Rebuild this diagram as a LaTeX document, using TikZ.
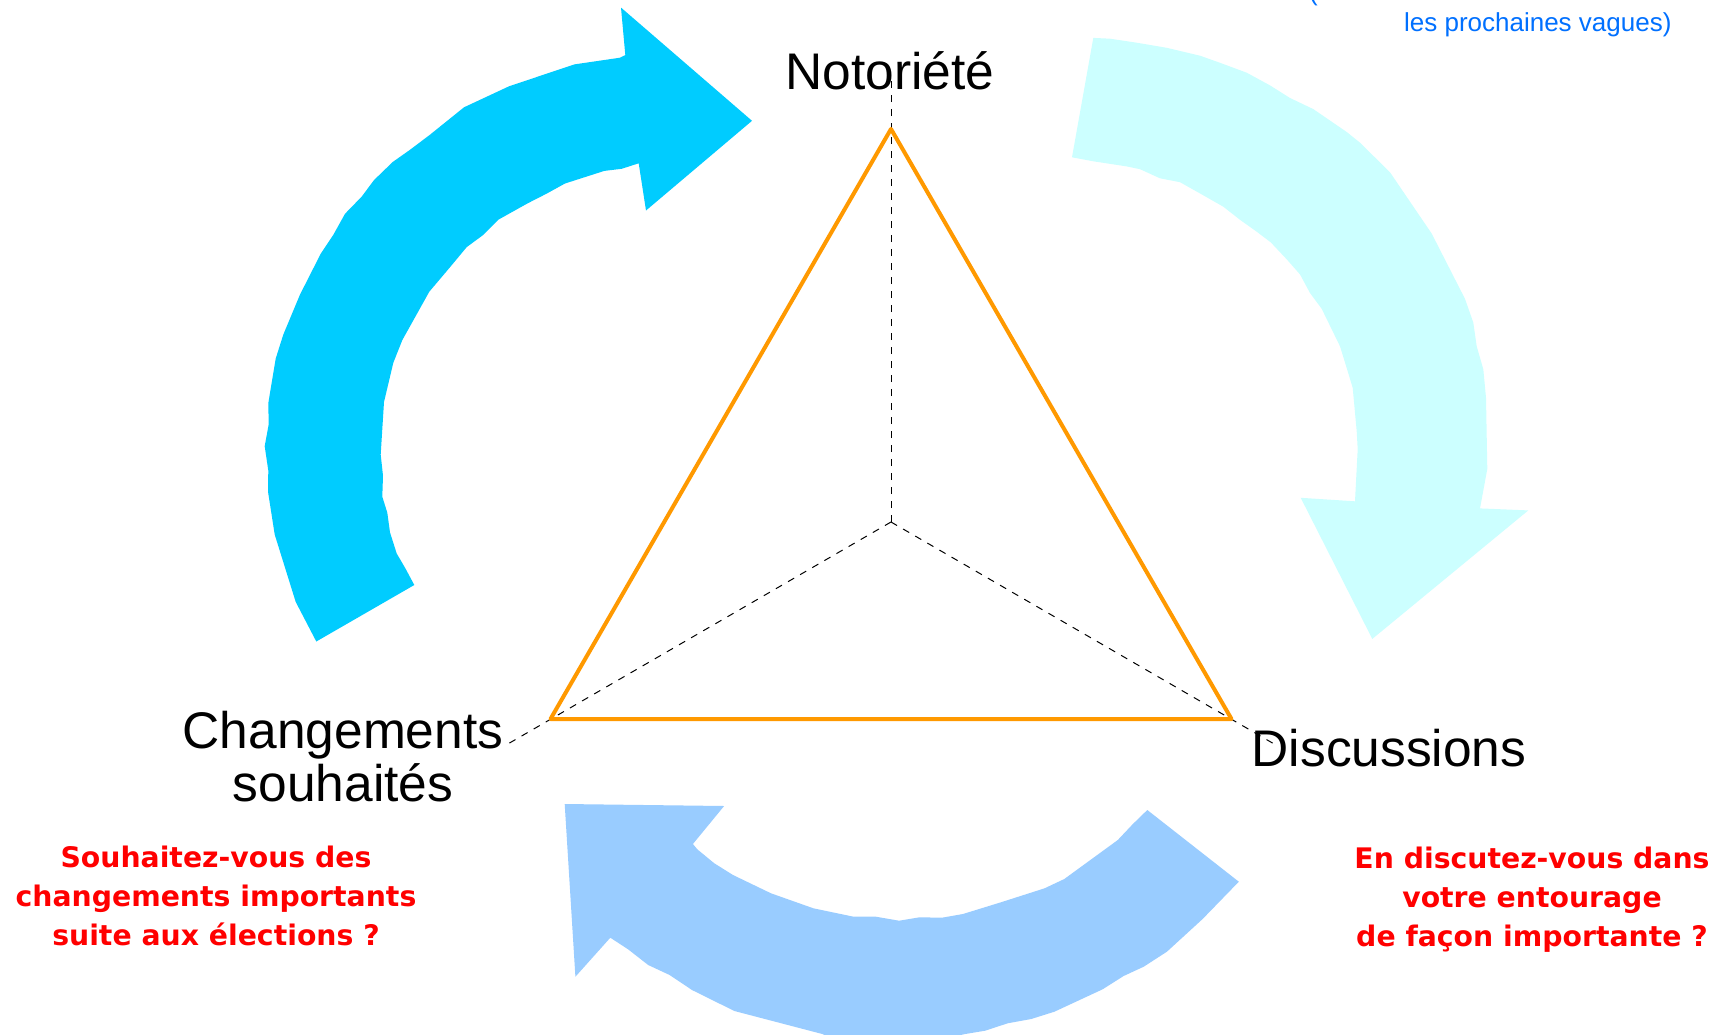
\documentclass[tikz,border=0pt]{standalone}
\usepackage{fontspec}
\setmainfont{Liberation Sans}
\newfontfamily\qfont{DejaVu Sans}
\definecolor{arrowdeep}{HTML}{00CCFF}
\definecolor{arrowpale}{HTML}{CCFFFF}
\definecolor{arrowsoft}{HTML}{99CCFF}
\definecolor{triorange}{HTML}{FF9900}
\definecolor{qred}{HTML}{FF0000}
\definecolor{noteblue}{HTML}{0070FF}
\tikzset{
  lbl/.style={font=\fontsize{51.5}{53.4}\selectfont, inner sep=0pt, align=center},
  question/.style={text=qred, font=\qfont\bfseries\fontsize{28.3}{39}\selectfont, inner sep=0pt, align=center},
  note/.style={text=noteblue, font=\fontsize{26}{30}\selectfont, inner sep=0pt},
  axisline/.style={draw=black, line width=1pt, dash pattern=on 7pt off 7pt},
  triline/.style={draw=triorange, line width=4pt, line join=round},
}
\begin{document}
\begin{tikzpicture}[x=1pt,y=-1pt]
\useasboundingbox (0,0) rectangle (1727,1034);
\fill[white] (0,0) rectangle (1727,1034);

% top-left arrow (deep cyan)
\fill[arrowdeep] (316.3,641.5) -- (295.7,601.9) -- (274.7,534.5) -- (268,491.6) -- (268.3,470.6)
 -- (264.7,446.2) -- (268.7,424.3) -- (268.3,403.2) -- (275.7,358.6) -- (283.3,334.6)
 -- (300,294.6) -- (320.7,253.8) -- (333.3,234.9) -- (345,213.8) -- (361.7,196.6)
 -- (374,180.1) -- (392.7,162) -- (410,149.8) -- (430,134.7) -- (464,107.3)
 -- (509,86.3) -- (574.3,64.4) -- (620,57.7) -- (625.3,55.1) -- (621,7.6)
 -- (752,120.8) -- (646,210.5) -- (638.7,163.3) -- (621.7,168.8) -- (604.3,170.9)
 -- (565,183.5) -- (546.7,193.6) -- (527.7,203.3) -- (498.3,219.7) -- (483.3,234.9)
 -- (466.7,247.1) -- (451.7,265.2) -- (429.3,291.7) -- (402.3,340.1) -- (393.3,362.8)
 -- (384,402) -- (380.7,454.6) -- (383,475.6) -- (382.3,496.7) -- (387.3,512.7)
 -- (390,532.4) -- (396.7,553.5) -- (405.3,568.2) -- (414.3,585) -- cycle;

% top-right arrow (pale cyan)
\fill[arrowpale] (1093.3,37.9) -- (1110,38.7) -- (1136.7,42.7) -- (1166.7,47.8) -- (1200,55.7)
 -- (1220,62.8) -- (1246.7,72.7) -- (1270,85.4) -- (1290,98) -- (1313.3,109.1)
 -- (1346.7,132) -- (1360,142.7) -- (1390,172.3) -- (1431.7,233.6) -- (1465,298.9)
 -- (1473.3,322.6) -- (1476.7,346.3) -- (1483.3,369.3) -- (1486,397.7) -- (1487.3,468.9)
 -- (1480,508.4) -- (1528.3,510.4) -- (1372.3,638.9) -- (1300.7,497.8) -- (1355,501.3)
 -- (1357.7,449.1) -- (1356.7,431.3) -- (1352.7,387.8) -- (1347.3,370) -- (1340,346.3)
 -- (1321.7,308.8) -- (1310,293) -- (1300,274.4) -- (1286.7,259.3) -- (1270.7,242.3)
 -- (1256.7,231.7) -- (1240,219.8) -- (1223.3,206.7) -- (1203.3,195.3) -- (1180,182.2)
 -- (1160,178.3) -- (1140,169.2) -- (1126.7,166.4) -- (1093.3,161.3) -- (1072,157.3) -- cycle;

% bottom arrow (soft blue)
\fill[arrowsoft] (564.7,804) -- (724.1,806) -- (692.9,844) -- (697.3,849.3) -- (714.3,863.3)
 -- (733,875) -- (771,893.3) -- (813.4,908.3) -- (853.6,916.7) -- (875.9,916.7)
 -- (899.1,920.7) -- (919.6,917.3) -- (942,917.7) -- (962.9,914) -- (1000.9,902.3)
 -- (1044.6,888.3) -- (1064.3,879) -- (1117.8,840) -- (1132.6,824.3) -- (1147.3,810)
 -- (1238.8,881.7) -- (1202.6,919) -- (1166.9,951.7) -- (1143.7,966.7) -- (1123.6,976)
 -- (1102.6,989.3) -- (1054.4,1011.7) -- (1031.2,1019) -- (1007.6,1023.3) -- (985.2,1030.7)
 -- (965.2,1034) -- (930,1042) -- (880,1046) -- (840,1042) -- (822.3,1034)
 -- (734.4,1011) -- (692,990) -- (669.6,975) -- (648.2,965) -- (628.1,949.3)
 -- (610.3,937.7) -- (575.4,976.7) -- cycle;

% axes
\coordinate (ctr) at (891,522);
\coordinate (axtop) at (891,74);
\coordinate (axleft) at (503.5,746.5);
\coordinate (axright) at (1278.5,746.5);
\draw[axisline] (ctr) -- (axtop);
\draw[axisline] (ctr) -- (axleft);
\draw[axisline] (ctr) -- (axright);

% triangle
\coordinate (vtop) at (891,129);
\coordinate (vleft) at (550.5,719);
\coordinate (vright) at (1231.5,719);
\draw[triline] (vtop) -- (vright) -- (vleft) -- cycle;

% labels (anchor=base of a multi-line node is the baseline of its last line)
\node[lbl, anchor=base] (noto) at (890,89.3) {Notoriété};
\node[lbl, anchor=base] (chg) at (343,801.7) {Changements\\souhaités};
\node[lbl, anchor=base] (disc) at (1389,766.7) {Discussions};

\node[question, anchor=base] (qleft) at (216,945) {Souhaitez-vous des\\changements importants\\suite aux élections ?};
\node[question, anchor=base] (qright) at (1532,946.7) {En discutez-vous dans\\votre entourage\\de façon importante ?};

\node[note, anchor=base east] (noteb) at (1671.7,31.7) {les prochaines vagues)};
\node[note, anchor=base west] (notea) at (1309,0.5) {(};
\end{tikzpicture}
\end{document}
